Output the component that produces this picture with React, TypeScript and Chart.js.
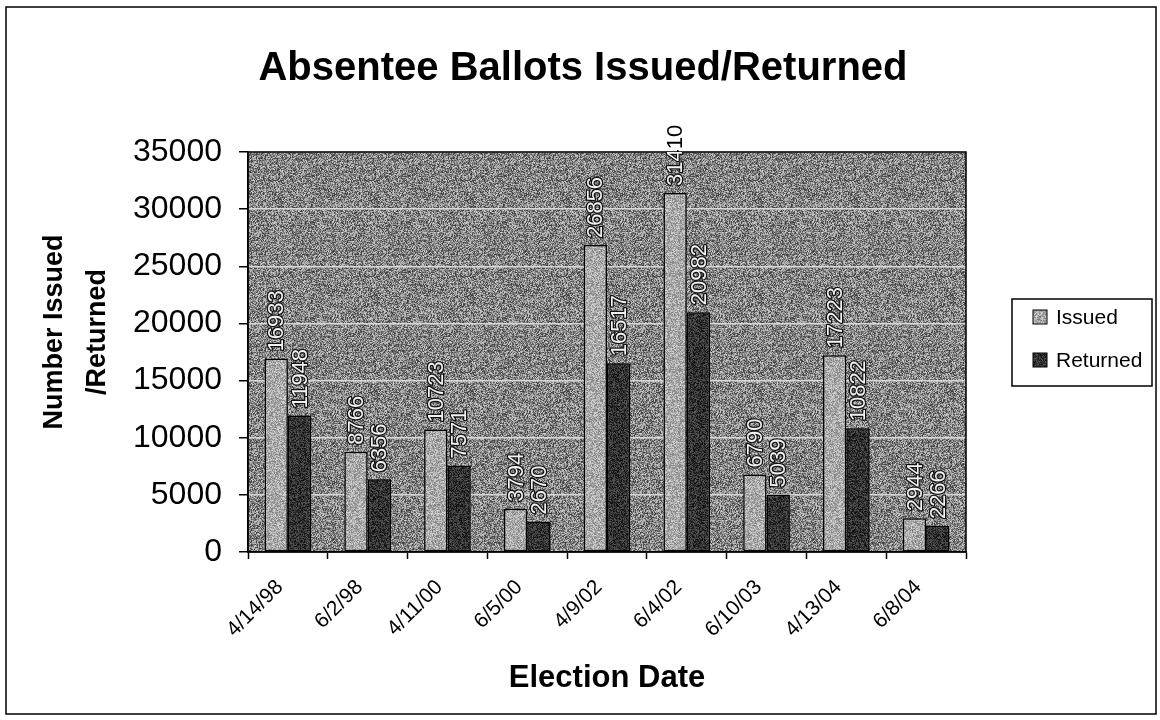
import React, { useEffect, useRef } from "react";
import { Chart, registerables } from "chart.js";

Chart.register(...registerables);

// ---- data ----
const electionDates = ["4/14/98", "6/2/98", "4/11/00", "6/5/00", "4/9/02", "6/4/02", "6/10/03", "4/13/04", "6/8/04"];
const issuedCounts = [16933, 8766, 10723, 3794, 26856, 31410, 6790, 17223, 2944];
const returnedCounts = [11948, 6356, 7571, 2670, 16517, 20982, 5039, 10822, 2266];
const seriesNames = ["Issued", "Returned"];
const yMin = 0;
const yMax = 35000;
const yStep = 5000;

const chartTitle = "Absentee Ballots Issued/Returned";
const yTitleLines = ["Number Issued", "/Returned"];
const xTitle = "Election Date";

const FONT = "'Liberation Sans', Arial, sans-serif";

// deterministic speckle texture used as a fill
function grain(base: number, amp: number, seed: number): CanvasPattern | string {
  const size = 96;
  const c = document.createElement("canvas");
  c.width = size;
  c.height = size;
  const g = c.getContext("2d");
  if (!g) return `rgb(${base},${base},${base})`;
  const img = g.createImageData(size, size);
  for (let y = 0; y < size; y++) {
    for (let x = 0; x < size; x++) {
      let h = (x * 374761393 + y * 668265263 + seed * 2246822519) | 0;
      h = Math.imul(h ^ (h >>> 13), 1274126177);
      h ^= h >>> 16;
      const r = ((h >>> 0) % 1000) / 1000;
      const v = Math.max(0, Math.min(255, Math.round(base + (r - 0.5) * 2 * amp)));
      const i = (y * size + x) * 4;
      img.data[i] = v;
      img.data[i + 1] = v;
      img.data[i + 2] = v;
      img.data[i + 3] = 255;
    }
  }
  g.putImageData(img, 0, 0);
  const p = g.createPattern(c, "repeat");
  return p || `rgb(${base},${base},${base})`;
}

export default function App() {
  const canvasRef = useRef<HTMLCanvasElement | null>(null);

  useEffect(() => {
    document.body.style.margin = "0";
    const canvas = canvasRef.current;
    if (!canvas) return;

    const plotFill = grain(132, 75, 1);
    const issuedFill = grain(170, 45, 2);
    const returnedFill = grain(50, 40, 3);

    const decor = {
      id: "decor",
      beforeDraw(chart: any) {
        const { ctx, chartArea: a } = chart;
        ctx.save();
        ctx.fillStyle = "#fff";
        ctx.fillRect(0, 0, chart.width, chart.height);
        ctx.strokeStyle = "#000";
        ctx.lineWidth = 1.5;
        ctx.strokeRect(6, 7, 1150, 707);
        ctx.fillStyle = plotFill;
        ctx.fillRect(a.left, a.top, a.right - a.left, a.bottom - a.top);
        ctx.restore();
      },
      afterDatasetsDraw(chart: any) {
        const { ctx, chartArea: a } = chart;
        ctx.save();
        ctx.strokeStyle = "#000";
        ctx.lineWidth = 1.5;
        ctx.strokeRect(a.left, a.top, a.right - a.left, a.bottom - a.top);
        ctx.restore();

        const drawLabels = (inside: boolean) => {
          chart.data.datasets.forEach((ds: any, di: number) => {
            const meta = chart.getDatasetMeta(di);
            meta.data.forEach((bar: any, i: number) => {
              const txt = String(ds.data[i]);
              ctx.save();
              ctx.translate(bar.x, bar.y - 7);
              ctx.rotate(-Math.PI / 2);
              ctx.font = `22px ${FONT}`;
              ctx.textAlign = "left";
              ctx.textBaseline = "middle";
              if (inside) {
                ctx.lineJoin = "round";
                ctx.lineWidth = 2.5;
                ctx.strokeStyle = "#111";
                ctx.strokeText(txt, 0, 1);
                ctx.fillStyle = "#f2f2f2";
                ctx.fillText(txt, 0, 1);
              } else {
                ctx.fillStyle = "#000";
                ctx.fillText(txt, 0, 1);
              }
              ctx.restore();
            });
          });
        };

        ctx.save();
        ctx.beginPath();
        ctx.rect(a.left, a.top, a.right - a.left, a.bottom - a.top);
        ctx.clip();
        drawLabels(true);
        ctx.restore();

        ctx.save();
        ctx.beginPath();
        ctx.rect(0, 0, chart.width, chart.height);
        ctx.rect(a.left, a.top, a.right - a.left, a.bottom - a.top);
        ctx.clip("evenodd");
        drawLabels(false);
        ctx.restore();
      },
      afterDraw(chart: any) {
        const { ctx, chartArea: a } = chart;
        ctx.save();
        ctx.fillStyle = "#000";
        ctx.textAlign = "center";
        ctx.textBaseline = "alphabetic";
        ctx.font = `bold 40px ${FONT}`;
        ctx.fillText(chartTitle, 583, 80);
        ctx.font = `bold 31px ${FONT}`;
        ctx.fillText(xTitle, (a.left + a.right) / 2, 687);

        ctx.font = `bold 27px ${FONT}`;
        const baselines = [62, 105];
        yTitleLines.forEach((line, i) => {
          ctx.save();
          ctx.translate(baselines[i], 332);
          ctx.rotate(-Math.PI / 2);
          ctx.fillText(line, 0, 0);
          ctx.restore();
        });

        // legend
        const lx = 1012, ly = 299, lw = 140, lh = 87;
        ctx.fillStyle = "#fff";
        ctx.fillRect(lx, ly, lw, lh);
        ctx.strokeStyle = "#000";
        ctx.lineWidth = 1.5;
        ctx.strokeRect(lx, ly, lw, lh);
        const fills = [issuedFill, returnedFill];
        const rows = [317, 360];
        seriesNames.forEach((name, i) => {
          ctx.fillStyle = fills[i];
          ctx.fillRect(1033, rows[i] - 7, 14, 14);
          ctx.lineWidth = 1;
          ctx.strokeRect(1033, rows[i] - 7, 14, 14);
          ctx.fillStyle = "#000";
          ctx.font = `21px ${FONT}`;
          ctx.textAlign = "left";
          ctx.textBaseline = "middle";
          ctx.fillText(name, 1056, rows[i] + 1);
        });
        ctx.restore();
      },
    };

    const chart = new Chart(canvas, {
      type: "bar",
      data: {
        labels: electionDates,
        datasets: [
          {
            label: seriesNames[0],
            data: issuedCounts,
            backgroundColor: issuedFill as any,
            borderColor: "#000",
            borderWidth: 1.5,
            borderSkipped: false,
            categoryPercentage: 0.585,
            barPercentage: 1,
          },
          {
            label: seriesNames[1],
            data: returnedCounts,
            backgroundColor: returnedFill as any,
            borderColor: "#000",
            borderWidth: 1.5,
            borderSkipped: false,
            categoryPercentage: 0.585,
            barPercentage: 1,
          },
        ],
      },
      options: {
        responsive: false,
        animation: false,
        layout: { padding: { top: 152, right: 194, left: 0, bottom: 0 } },
        plugins: {
          legend: { display: false },
          title: { display: false },
          tooltip: { enabled: false },
        },
        scales: {
          x: {
            offset: true,
            grid: { display: true, drawOnChartArea: false, offset: true, tickLength: 7, tickColor: "#000", tickWidth: 1.5 },
            border: { color: "#000", width: 1.5 },
            ticks: {
              color: "#000",
              font: { family: FONT, size: 21 },
              minRotation: 45,
              maxRotation: 45,
              autoSkip: false,
              padding: 16,
              labelOffset: -8,
            },
            afterFit: (s: any) => {
              s.height = 168;
            },
          },
          y: {
            min: yMin,
            max: yMax,
            grid: { color: "#d9d9d9", lineWidth: 1.5, tickLength: 9, tickColor: "#000", tickWidth: 1.5 },
            border: { color: "#000", width: 1.5 },
            ticks: {
              stepSize: yStep,
              color: "#000",
              font: { family: FONT, size: 32 },
              padding: 17,
              callback: (v: any) => String(v),
            },
            afterFit: (s: any) => {
              s.width = 248;
            },
          },
        },
      },
      plugins: [decor],
    });

    return () => chart.destroy();
  }, []);

  return (
    <div style={{ width: 1160, height: 720 }}>
      <canvas ref={canvasRef} width={1160} height={720} style={{ display: "block" }} />
    </div>
  );
}
